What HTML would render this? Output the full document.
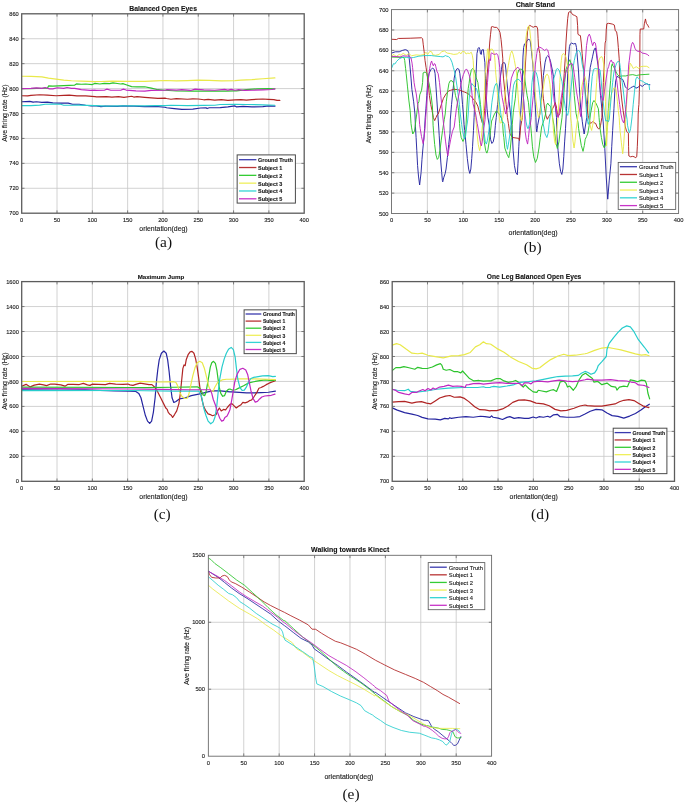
<!DOCTYPE html><html><head><meta charset="utf-8"><title>Firing rate figures</title><style>
html,body{margin:0;padding:0;background:#fff}svg{display:block}text{font-family:"Liberation Sans",Arial,sans-serif;fill:#1a1a1a;stroke:#1a1a1a;stroke-width:.12px}.tt{font-weight:bold;fill:#111}.cap{font-family:"Liberation Serif","Times New Roman",serif;font-size:15.4px;fill:#111;stroke:none}.gr{stroke:#c6c6c6;stroke-width:.8}.ax{fill:none}.tm{stroke:#555;stroke-width:.7}.cv{fill:none;stroke-linejoin:round;stroke-linecap:round}
</style></head><body>
<svg width="685" height="804" viewBox="0 0 685 804">
<rect width="685" height="804" fill="#fff"/>
<g id="chart-a">
<line class="gr" x1="57.01" y1="13.8" x2="57.01" y2="213.2"/>
<line class="gr" x1="92.33" y1="13.8" x2="92.33" y2="213.2"/>
<line class="gr" x1="127.64" y1="13.8" x2="127.64" y2="213.2"/>
<line class="gr" x1="162.95" y1="13.8" x2="162.95" y2="213.2"/>
<line class="gr" x1="198.26" y1="13.8" x2="198.26" y2="213.2"/>
<line class="gr" x1="233.57" y1="13.8" x2="233.57" y2="213.2"/>
<line class="gr" x1="268.89" y1="13.8" x2="268.89" y2="213.2"/>
<line class="gr" x1="21.7" y1="188.27" x2="304.2" y2="188.27"/>
<line class="gr" x1="21.7" y1="163.35" x2="304.2" y2="163.35"/>
<line class="gr" x1="21.7" y1="138.43" x2="304.2" y2="138.43"/>
<line class="gr" x1="21.7" y1="113.5" x2="304.2" y2="113.5"/>
<line class="gr" x1="21.7" y1="88.58" x2="304.2" y2="88.58"/>
<line class="gr" x1="21.7" y1="63.65" x2="304.2" y2="63.65"/>
<line class="gr" x1="21.7" y1="38.73" x2="304.2" y2="38.73"/>
<line class="tm" x1="57.01" y1="213.2" x2="57.01" y2="210.4"/>
<line class="tm" x1="57.01" y1="13.8" x2="57.01" y2="16.6"/>
<line class="tm" x1="92.33" y1="213.2" x2="92.33" y2="210.4"/>
<line class="tm" x1="92.33" y1="13.8" x2="92.33" y2="16.6"/>
<line class="tm" x1="127.64" y1="213.2" x2="127.64" y2="210.4"/>
<line class="tm" x1="127.64" y1="13.8" x2="127.64" y2="16.6"/>
<line class="tm" x1="162.95" y1="213.2" x2="162.95" y2="210.4"/>
<line class="tm" x1="162.95" y1="13.8" x2="162.95" y2="16.6"/>
<line class="tm" x1="198.26" y1="213.2" x2="198.26" y2="210.4"/>
<line class="tm" x1="198.26" y1="13.8" x2="198.26" y2="16.6"/>
<line class="tm" x1="233.57" y1="213.2" x2="233.57" y2="210.4"/>
<line class="tm" x1="233.57" y1="13.8" x2="233.57" y2="16.6"/>
<line class="tm" x1="268.89" y1="213.2" x2="268.89" y2="210.4"/>
<line class="tm" x1="268.89" y1="13.8" x2="268.89" y2="16.6"/>
<line class="tm" x1="21.7" y1="188.27" x2="24.5" y2="188.27"/>
<line class="tm" x1="304.2" y1="188.27" x2="301.4" y2="188.27"/>
<line class="tm" x1="21.7" y1="163.35" x2="24.5" y2="163.35"/>
<line class="tm" x1="304.2" y1="163.35" x2="301.4" y2="163.35"/>
<line class="tm" x1="21.7" y1="138.43" x2="24.5" y2="138.43"/>
<line class="tm" x1="304.2" y1="138.43" x2="301.4" y2="138.43"/>
<line class="tm" x1="21.7" y1="113.5" x2="24.5" y2="113.5"/>
<line class="tm" x1="304.2" y1="113.5" x2="301.4" y2="113.5"/>
<line class="tm" x1="21.7" y1="88.58" x2="24.5" y2="88.58"/>
<line class="tm" x1="304.2" y1="88.58" x2="301.4" y2="88.58"/>
<line class="tm" x1="21.7" y1="63.65" x2="24.5" y2="63.65"/>
<line class="tm" x1="304.2" y1="63.65" x2="301.4" y2="63.65"/>
<line class="tm" x1="21.7" y1="38.73" x2="24.5" y2="38.73"/>
<line class="tm" x1="304.2" y1="38.73" x2="301.4" y2="38.73"/>
<clipPath id="cl-a"><rect x="21.7" y="13.8" width="282.5" height="199.4"/></clipPath>
<g clip-path="url(#cl-a)">
<polyline class="cv" stroke="#2525a0" stroke-width="1.2" points="21.64,101.75 29.85,101.31 33.14,102.08 36.42,101.75 41.9,102.3 47.37,102.08 52.85,102.85 60.51,103.18 68.18,103.18 72.55,104.27 79.12,104.27 85.69,105.26 91.17,105.91 95,105.58 96.57,105.91 100.95,106.68 105.33,106.13 117.37,106.46 122.85,105.91 133.8,106.13 144.74,106.68 155.69,106.35 165,107.23 166.57,107.77 174.23,108.65 181.9,109.42 192.85,109.09 200.51,107.99 205.99,107.77 207.08,108.54 209.27,107.77 220.22,107.55 227.88,106.9 235,105.91 236.57,106.9 243.14,106.46 251.9,106.9 262.85,106.68 268.32,105.91 274.89,106.13"/>
<polyline class="cv" stroke="#b02424" stroke-width="1.2" points="21.64,95.73 27.66,95.95 30.95,95.4 39.71,94.74 47.37,95.18 56.13,95.73 63.8,95.4 69.27,95.18 76.93,95.95 85.69,95.95 95,96.61 96.57,96.82 106.42,96.61 111.9,97.04 118.47,96.61 123.94,97.37 131.61,96.28 133.8,97.04 137.08,96.61 144.74,97.37 151.31,97.92 157.88,98.47 165,98.14 166.57,98.47 170.95,99.23 176.42,98.69 187.37,99.23 192.85,98.8 198.32,99.01 203.8,99.78 208.18,99.34 214.74,100.11 221.31,99.56 227.88,100.33 235,99.78 240.95,99.56 246.42,100.11 251.9,99.56 262.85,99.01 268.32,99.34 273.8,99.56 277.08,100.44 279.82,100.44"/>
<polyline class="cv" stroke="#2cc42c" stroke-width="1.2" points="21.64,88.61 30.4,88.72 36.42,88.39 47.37,88.18 48.69,85.88 52.85,86.09 63.8,85.66 74.74,85.11 76.39,83.91 81.31,84.23 85.69,84.01 92.26,84.56 95,83.36 99.85,84.01 104.23,83.36 109.71,83.69 112.99,82.81 117.37,83.47 120.66,84.01 122.85,83.69 126.13,84.78 131.61,86.64 137.08,86.97 144.74,86.75 151.31,88.07 157.88,89.71 165,90.26 176.42,91.02 192.85,91.13 209.27,91.13 225.69,91.13 235,90.8 236.57,90.8 246.42,89.71 257.37,88.83 268.32,88.61 274.89,88.83"/>
<polyline class="cv" stroke="#e9e94a" stroke-width="1.2" points="21.64,76.24 30.95,76.35 41.9,76.9 48.47,78.21 56.13,79.09 63.8,80.07 71.46,80.73 81.31,81.17 95,81.72 100.95,81.5 111.9,81.17 127.23,81.28 144.74,81.28 155.69,80.95 165,80.51 176.42,80.95 187.37,80.62 198.32,80.07 209.27,80.4 221.31,80.95 235,80.62 240.95,80.18 251.9,79.64 262.85,78.76 274.89,77.88"/>
<polyline class="cv" stroke="#28cdcd" stroke-width="1.2" points="21.64,105.58 30.95,105.58 39.71,105.04 45.18,104.27 52.85,104.16 60.51,104.27 63.8,105.26 71.46,105.26 79.12,105.04 95,105.58 106.42,106.13 122.85,105.91 144.74,105.91 155.69,105.58 165,105.58 170.95,105.26 187.37,105.58 203.8,105.36 214.74,105.26 220.22,104.49 235,104.27 246.42,104.49 262.85,104.82 274.89,105.26"/>
<polyline class="cv" stroke="#c028c0" stroke-width="1.2" points="21.64,88.61 30.95,88.39 36.42,87.85 41.9,88.39 45.18,87.52 49.56,88.83 52.85,88.94 57.23,87.74 63.8,88.39 67.08,87.52 71.46,88.39 74.74,88.39 81.31,89.71 90.07,90.47 95,90.04 95.47,90.47 104.23,90.26 106.97,89.16 110.8,90.26 120.66,90.26 123.39,89.16 126.13,90.04 135.99,90.8 144.74,91.13 151.31,90.47 165,90.26 166.57,89.71 176.42,90.04 181.9,89.71 190.66,90.47 195.04,89.16 203.8,89.93 214.74,90.26 224.6,89.38 227.88,90.04 231.17,89.38 235,90.26 238.76,89.71 244.23,90.47 251.9,90.26 262.85,89.93 271.61,89.49 274.89,88.83"/>
</g>
<rect class="ax" x="21.7" y="13.8" width="282.5" height="199.4" stroke="#5c5c5c" stroke-width="1.3"/>
<text font-size="5.7" text-anchor="middle" x="21.7" y="222">0</text>
<text font-size="5.7" text-anchor="middle" x="57.01" y="222">50</text>
<text font-size="5.7" text-anchor="middle" x="92.33" y="222">100</text>
<text font-size="5.7" text-anchor="middle" x="127.64" y="222">150</text>
<text font-size="5.7" text-anchor="middle" x="162.95" y="222">200</text>
<text font-size="5.7" text-anchor="middle" x="198.26" y="222">250</text>
<text font-size="5.7" text-anchor="middle" x="233.57" y="222">300</text>
<text font-size="5.7" text-anchor="middle" x="268.89" y="222">350</text>
<text font-size="5.7" text-anchor="middle" x="304.2" y="222">400</text>
<text font-size="5.7" text-anchor="end" x="18.8" y="215.25">700</text>
<text font-size="5.7" text-anchor="end" x="18.8" y="190.33">720</text>
<text font-size="5.7" text-anchor="end" x="18.8" y="165.4">740</text>
<text font-size="5.7" text-anchor="end" x="18.8" y="140.48">760</text>
<text font-size="5.7" text-anchor="end" x="18.8" y="115.55">780</text>
<text font-size="5.7" text-anchor="end" x="18.8" y="90.63">800</text>
<text font-size="5.7" text-anchor="end" x="18.8" y="65.7">820</text>
<text font-size="5.7" text-anchor="end" x="18.8" y="40.78">840</text>
<text font-size="5.7" text-anchor="end" x="18.8" y="15.85">860</text>
<text class="tt" font-size="6.85" text-anchor="middle" x="163.15" y="10.6">Balanced Open Eyes</text>
<text font-size="6.9" text-anchor="middle" x="163.5" y="230.6">orientation(deg)</text>
<text font-size="6.9" text-anchor="middle" transform="translate(7.3,113.1) rotate(-90)">Ave firing rate (Hz)</text>
<rect x="237.15" y="154.9" width="58.25" height="48.2" fill="#fff" stroke="#4a4a4a" stroke-width="1"/>
<line x1="239" y1="159.7" x2="256.4" y2="159.7" stroke="#3a3aae" stroke-width="1.3"/>
<text font-size="5.45" font-weight="bold" fill="#111" x="258.1" y="162.11">Ground Truth</text>
<line x1="239" y1="167.52" x2="256.4" y2="167.52" stroke="#b83434" stroke-width="1.3"/>
<text font-size="5.45" font-weight="bold" fill="#111" x="258.1" y="169.93">Subject 1</text>
<line x1="239" y1="175.34" x2="256.4" y2="175.34" stroke="#34cc34" stroke-width="1.3"/>
<text font-size="5.45" font-weight="bold" fill="#111" x="258.1" y="177.75">Subject 2</text>
<line x1="239" y1="183.16" x2="256.4" y2="183.16" stroke="#efef5c" stroke-width="1.3"/>
<text font-size="5.45" font-weight="bold" fill="#111" x="258.1" y="185.57">Subject 3</text>
<line x1="239" y1="190.98" x2="256.4" y2="190.98" stroke="#34d4d4" stroke-width="1.3"/>
<text font-size="5.45" font-weight="bold" fill="#111" x="258.1" y="193.39">Subject 4</text>
<line x1="239" y1="198.8" x2="256.4" y2="198.8" stroke="#c834c8" stroke-width="1.3"/>
<text font-size="5.45" font-weight="bold" fill="#111" x="258.1" y="201.21">Subject 5</text>
<text class="cap" text-anchor="middle" x="163.5" y="247.3">(a)</text>
</g>
<g id="chart-b">
<line class="gr" x1="427.39" y1="9.6" x2="427.39" y2="213.5"/>
<line class="gr" x1="463.27" y1="9.6" x2="463.27" y2="213.5"/>
<line class="gr" x1="499.16" y1="9.6" x2="499.16" y2="213.5"/>
<line class="gr" x1="535.05" y1="9.6" x2="535.05" y2="213.5"/>
<line class="gr" x1="570.94" y1="9.6" x2="570.94" y2="213.5"/>
<line class="gr" x1="606.83" y1="9.6" x2="606.83" y2="213.5"/>
<line class="gr" x1="642.71" y1="9.6" x2="642.71" y2="213.5"/>
<line class="gr" x1="391.5" y1="193.11" x2="678.6" y2="193.11"/>
<line class="gr" x1="391.5" y1="172.72" x2="678.6" y2="172.72"/>
<line class="gr" x1="391.5" y1="152.33" x2="678.6" y2="152.33"/>
<line class="gr" x1="391.5" y1="131.94" x2="678.6" y2="131.94"/>
<line class="gr" x1="391.5" y1="111.55" x2="678.6" y2="111.55"/>
<line class="gr" x1="391.5" y1="91.16" x2="678.6" y2="91.16"/>
<line class="gr" x1="391.5" y1="70.77" x2="678.6" y2="70.77"/>
<line class="gr" x1="391.5" y1="50.38" x2="678.6" y2="50.38"/>
<line class="gr" x1="391.5" y1="29.99" x2="678.6" y2="29.99"/>
<line class="tm" x1="427.39" y1="213.5" x2="427.39" y2="210.7"/>
<line class="tm" x1="427.39" y1="9.6" x2="427.39" y2="12.4"/>
<line class="tm" x1="463.27" y1="213.5" x2="463.27" y2="210.7"/>
<line class="tm" x1="463.27" y1="9.6" x2="463.27" y2="12.4"/>
<line class="tm" x1="499.16" y1="213.5" x2="499.16" y2="210.7"/>
<line class="tm" x1="499.16" y1="9.6" x2="499.16" y2="12.4"/>
<line class="tm" x1="535.05" y1="213.5" x2="535.05" y2="210.7"/>
<line class="tm" x1="535.05" y1="9.6" x2="535.05" y2="12.4"/>
<line class="tm" x1="570.94" y1="213.5" x2="570.94" y2="210.7"/>
<line class="tm" x1="570.94" y1="9.6" x2="570.94" y2="12.4"/>
<line class="tm" x1="606.83" y1="213.5" x2="606.83" y2="210.7"/>
<line class="tm" x1="606.83" y1="9.6" x2="606.83" y2="12.4"/>
<line class="tm" x1="642.71" y1="213.5" x2="642.71" y2="210.7"/>
<line class="tm" x1="642.71" y1="9.6" x2="642.71" y2="12.4"/>
<line class="tm" x1="391.5" y1="193.11" x2="394.3" y2="193.11"/>
<line class="tm" x1="678.6" y1="193.11" x2="675.8" y2="193.11"/>
<line class="tm" x1="391.5" y1="172.72" x2="394.3" y2="172.72"/>
<line class="tm" x1="678.6" y1="172.72" x2="675.8" y2="172.72"/>
<line class="tm" x1="391.5" y1="152.33" x2="394.3" y2="152.33"/>
<line class="tm" x1="678.6" y1="152.33" x2="675.8" y2="152.33"/>
<line class="tm" x1="391.5" y1="131.94" x2="394.3" y2="131.94"/>
<line class="tm" x1="678.6" y1="131.94" x2="675.8" y2="131.94"/>
<line class="tm" x1="391.5" y1="111.55" x2="394.3" y2="111.55"/>
<line class="tm" x1="678.6" y1="111.55" x2="675.8" y2="111.55"/>
<line class="tm" x1="391.5" y1="91.16" x2="394.3" y2="91.16"/>
<line class="tm" x1="678.6" y1="91.16" x2="675.8" y2="91.16"/>
<line class="tm" x1="391.5" y1="70.77" x2="394.3" y2="70.77"/>
<line class="tm" x1="678.6" y1="70.77" x2="675.8" y2="70.77"/>
<line class="tm" x1="391.5" y1="50.38" x2="394.3" y2="50.38"/>
<line class="tm" x1="678.6" y1="50.38" x2="675.8" y2="50.38"/>
<line class="tm" x1="391.5" y1="29.99" x2="394.3" y2="29.99"/>
<line class="tm" x1="678.6" y1="29.99" x2="675.8" y2="29.99"/>
<clipPath id="cl-b"><rect x="391.5" y="9.6" width="287.1" height="203.9"/></clipPath>
<g clip-path="url(#cl-b)">
<polyline class="cv" stroke="#2525a0" stroke-width="0.95" points="391.49,53.11 395.26,51.8 399.2,51.8 402.26,50.48 405.33,49.61 407.52,50.48 408.66,52.67 409.27,58.8 410.15,68 411.02,78.14 411.9,89.53 413.65,101.79 414.96,114.05 415.4,126.13 416.1,137.52 416.8,150.66 417.59,165.55 418.47,176.06 419.64,185 421.09,172.55 421.97,159.42 422.85,148.91 423.72,140.15 424.6,128.76 425.21,117.55 425.91,108.8 426.79,95.66 427.66,82.52 428.98,73.76 430.73,69.82 432.48,68.07 434.23,69.38 435.11,73.76 435.99,86.9 436.86,100.04 437.74,113.18 438.7,127.01 439.23,135.77 439.93,148.03 440.8,162.04 441.68,172.55 442.38,180.44 442.73,181.84 443.69,177.81 445.18,173.43 446.06,169.05 447.37,157.66 448.69,144.53 450,133.14 450.26,120 450.78,114.05 451.57,104.42 452.88,91.28 454.2,78.14 455.51,71.13 457.26,68.5 459.01,69.38 459.89,73.76 460.77,82.52 461.64,93.03 462.52,104.42 463.39,114.05 464.09,124.38 464.71,130.51 466.02,144.53 467.34,158.54 468.65,169.05 469.79,173.43 470.84,169.05 471.72,158.54 472.59,146.28 473.47,130.51 474.08,117.55 474.61,104.42 475.22,91.28 476.09,73.76 476.97,53.55 478.11,48.29 478.99,47.42 479.86,49.61 480.47,53.99 481.35,54.42 481.79,50.04 483.36,49.61 483.98,55.3 484.85,62.31 485.47,78.14 486.17,95.66 487.04,108.8 487.92,117.55 489.23,125.26 489.85,132.26 490.55,139.27 491.86,143.47 493.18,141.9 494.49,135.77 495.36,125.26 496.24,117.55 497.55,104.42 498.87,91.28 500.18,78.14 501.5,69.38 502.19,64.06 503.94,62.31 505.26,64.06 505.96,70.26 506.57,78.14 507.88,91.28 509.2,101.79 510.51,114.05 511.74,125.26 512.26,133.14 513.14,150.66 514.45,165.55 515.77,172.55 517.34,174.74 517.96,163.8 518.83,146.28 519.71,130.51 520.58,114.05 521.46,100.04 522.34,82.52 522.95,57.05 523.65,47.42 524.53,43.91 525.84,43.04 527.15,40.41 528.91,39.09 530.22,40.85 531.09,47.42 531.97,56.18 532.85,64.06 533.72,78.14 534.42,91.28 535.21,104.42 535.91,117.55 536.35,128.76 536.79,131.82 537.66,125.26 539.85,114.05 541.17,100.04 542.48,86.9 543.36,75.51 545.11,62.31 546.42,57.05 547.74,55.74 549.05,57.05 550.36,60.55 552.55,71.13 553.43,76.39 554.31,91.28 555.18,104.42 556.5,117.55 556.75,133.14 558.07,150.66 559.38,163.8 560.69,171.68 561.83,174.48 562.88,169.05 563.76,156.79 564.64,141.9 565.51,128.76 566.56,108.8 567.09,91.28 567.7,73.76 568.58,57.05 569.45,46.54 570.33,43.91 571.64,43.04 573.39,43.91 575.58,43.47 576.46,47.42 577.34,57.05 578.47,70.26 579.35,86.9 580.58,107.04 582.33,121.75 583.03,127.01 584.17,134.01 585.22,127.01 586.71,117.55 587.58,100.04 588.72,82.52 590.21,67.56 591.35,62.31 592.66,56.18 593.98,50.04 595.29,47.85 596.17,51.8 597.04,58.8 598.62,69.38 599.41,82.52 600.55,95.66 601.86,108.8 603.18,121.93 604.82,148.8 606.28,177.99 607.74,199.16 609.2,180.91 610.88,163.8 611.75,146.28 612.63,130.51 613.94,108.8 614.82,91.28 615.69,80.77 617.01,76.39 618.76,77.26 620.51,78.58 622.7,79.45 624.01,82.52 625.33,86.9 627.08,88.65 628.83,89.53 630.58,87.77 632.34,86.9 634.09,86.02 635.84,88.21 638.03,87.34 640.22,85.15 642.41,86.46 644.6,84.27 646.79,83.83 648.98,84.71 649.85,84.71"/>
<polyline class="cv" stroke="#b02424" stroke-width="0.95" points="391.49,39.27 396.57,39.53 398.32,38.48 410.15,38.22 421.53,37.78 422.58,38.66 423.28,44.79 424.16,51.8 425.04,60.55 426.09,67.63 426.79,72.01 428.1,82.52 429.42,95.66 430.73,104.42 432.04,110.55 433.36,117.55 434.67,120.62 435.99,117.55 437.12,114.93 438.18,114.05 439.93,108.8 441.68,103.54 443.43,98.28 446.06,93.91 448.25,91.28 450,90.4 450.26,90.4 453.76,89.35 457.26,89.53 460.77,90.58 464.27,91.98 467.77,93.47 470.4,95.66 473.03,98.72 475.66,101.79 477.85,106.17 479.16,111.42 480.47,116.68 481.79,121.06 483.19,125.44 484.59,110.55 485.82,93.91 486.87,78.14 488.09,64.06 488.8,57.05 489.67,43.04 490.55,34.28 491.42,26.83 492.74,26.57 494.05,27.27 496.68,27.45 498.43,29.02 500.01,32.53 501.06,39.53 501.93,48.29 502.81,58.8 502.86,68.5 503.5,78.14 504.82,91.28 506.13,104.42 507.45,117.55 508.41,123.5 509.11,128.76 510.07,134.01 511.39,136.2 512.7,137.52 518.83,138.39 519.45,140.58 519.97,135.77 520.58,127.01 522.34,117.55 523.04,107.04 523.82,91.28 524.7,78.14 525.84,57.05 526.72,43.04 527.59,30.77 528.47,26.83 529.78,25.34 531.53,26.39 533.28,27.27 535.04,26.39 536.79,26.57 537.66,29.02 538.1,38.66 538.54,47.42 539.85,53.55 540.29,60.55 541.17,70.26 541.78,79.89 542.48,89.53 543.36,98.28 544.67,108.8 545.99,115.8 547.3,119.31 548.61,116.68 550.36,114.05 552.55,108.8 553.87,106.17 555.18,102.66 556.5,107.04 556.55,108.8 558.07,116.68 559.82,113.61 561.13,107.04 562.45,95.66 563.32,85.15 564.2,73.76 565.34,57.05 565.95,43.04 566.82,29.9 567.7,18.51 568.58,12.38 569.89,11.68 571.2,12.38 572.52,14.57 574.71,15.45 576.9,16.76 577.6,25.52 577.95,34.28 579.09,35.15 580.4,35.59 581.28,43.04 582.15,53.55 583.03,64.06 583.91,72.01 584.61,82.52 585.39,93.03 586.53,104.42 588.28,115.8 589.6,121.06 590.47,123.5 591.79,122.63 593.1,121.31 594.42,123.07 595.73,123.5 597.04,127.01 598.36,128.76 599.67,128.76 600.55,125.26 601.86,117.55 602.74,100.04 603.35,82.52 604.23,64.06 604.58,55.3 605.1,43.04 605.8,40.41 606.24,29.9 606.85,23.77 608.43,23.33 611.06,23.77 612.63,24.2 614.38,25.08 615.26,30.77 616.57,31.65 617.45,36.91 618.32,47.42 619.2,58.8 619.81,76.39 620.51,86.9 621.82,100.04 623.14,110.55 624.45,119.31 625.33,127.01 626.64,131.39 628.39,133.14 628.57,146.28 628.83,155.91 630.58,156.79 632.77,156.35 634.09,156.79 635.84,157.66 636.72,156.79 637.33,146.28 637.85,133.14 638.2,114.05 638.55,107.92 638.91,104.42 639.34,91.28 639.78,78.14 639.87,51.8 639.96,34.28 640.22,29.02 643.72,29.02 644.34,23.77 645.47,18.95 646.35,23.33 647.66,25.08 648.8,27.27"/>
<polyline class="cv" stroke="#2cc42c" stroke-width="0.95" points="391.49,57.05 404.01,57.49 404.72,60.55 405.59,68.5 406.2,73.76 407.52,86.9 408.83,100.04 410.15,110.55 411.02,123.5 411.64,127.88 412.77,134.01 414.53,130.95 416.01,119.31 416.72,114.05 418.03,103.54 418.91,101.79 419.78,94.78 421.53,90.4 422.58,82.52 423.11,72.88 425.04,72.01 426.79,73.32 427.84,78.14 429.42,85.15 431.17,95.66 432.48,107.04 433.09,125.26 433.62,132.26 434.67,144.53 435.99,155.04 437.3,159.42 438.61,157.66 439.93,150.66 441.24,140.15 442.55,130.51 444.31,119.31 445.18,114.05 446.31,101.79 447.63,91.28 448.94,83.39 450.26,80.77 452.01,80.77 453.32,82.52 454.2,87.77 455.51,95.66 457.26,101.79 458.58,110.55 459.54,123.5 460.07,130.51 461.2,137.52 462.96,141.46 464.71,137.52 465.85,129.64 466.55,114.05 467.34,100.04 468.21,88.65 469.09,83.39 469.96,76.39 471.28,70.26 472.59,68.5 474.34,70.26 476.09,77.26 477.85,82.52 479.16,93.03 480.47,104.42 481.61,115.8 482.49,123.5 483.19,130.51 484.42,142.77 485.73,150.66 486.87,153.11 487.92,149.78 489.23,141.02 490.55,130.51 491.6,121.06 492.74,118.43 494.05,114.93 496.24,110.99 498.43,112.74 500.18,115.8 501.5,118.43 502.64,123.5 503.25,133.14 503.85,137.52 504.82,148.03 507.01,154.16 508.76,157.66 510.07,150.66 511.39,137.52 512.26,124.38 513.31,112.3 514.01,107.04 515.33,98.28 516.64,82.52 517.52,73.76 518.83,69.82 521.02,68.94 523.21,70.69 524.53,76.39 525.84,86.9 527.15,95.66 528.47,102.66 529.34,112.3 530.66,125.26 531.36,133.14 532.41,146.28 533.72,156.79 535.47,162.48 537.23,158.54 538.98,148.03 540.29,137.52 541.61,127.01 543.36,121.93 544.23,119.31 545.55,114.05 546.42,105.29 547.74,103.1 549.05,105.29 550.36,106.17 551.68,110.55 552.55,117.55 553.96,125.26 554.74,133.14 556.06,143.65 557.37,148.47 558.94,141.9 560.26,130.51 562.01,117.55 563.32,100.04 564.64,82.52 565.95,69.38 567.7,64.93 568.58,62.31 569.89,59.68 571.2,64.06 572.52,71.13 573.22,80.77 574.27,95.66 576.02,113.18 578.04,122.63 578.65,128.76 579.96,137.52 581.28,145.4 583.03,151.36 584.34,145.4 585.22,139.27 586.53,136.64 587.85,133.14 589.16,125.26 590.47,114.05 592.66,102.66 593.98,100.47 596.17,103.54 598.36,108.8 599.06,117.55 599.5,122.63 600.11,128.76 601.42,137.52 602.74,144.53 604.23,147.85 605.36,145.4 606.68,133.14 607.82,119.31 608.43,108.8 609.48,93.91 610.62,80.77 611.5,65.81 612.37,63.62 612.63,65.81 613.5,66.31 615.26,70.26 617.45,74.64 619.64,76.39 622.26,75.95 625.77,75.95 628.83,75.07 632.77,74.64 636.28,75.51 639.78,74.81 645.04,74.46 648.98,74.2"/>
<polyline class="cv" stroke="#e9e94a" stroke-width="0.95" points="391.49,56 393.94,54.42 396.13,56.61 399.2,54.42 400.95,55.3 403.14,53.37 406.2,55.3 408.83,53.55 411.46,55.74 416.28,54.86 420.22,55.3 424.16,54.42 425.91,52.23 427.66,54.42 429.85,51.36 431.61,51.8 432.92,54.86 435.55,55.3 439.05,54.42 441.68,51.8 444.31,50.92 447.19,53.11 450.26,53.55 453.76,54.42 457.26,53.99 459.45,52.23 460.77,53.99 462.52,51.36 464.71,51.8 466.02,53.99 467.77,53.11 469.53,53.55 471.28,52.23 472.33,55.3 473.2,60.55 473.73,70.26 473.99,78.14 474.52,91.28 475.04,104.42 475.66,117.55 476.36,124.38 476.97,133.14 478.28,144.53 479.6,150.66 480.47,147.15 481.35,137.52 482.23,127.01 483.01,121.06 483.54,108.8 484.42,91.28 485.12,73.76 486.26,65.81 486.87,57.05 487.48,49.17 488.09,48.73 488.62,57.05 489.23,60.55 489.85,51.8 490.55,49.17 492.3,49.17 493.61,51.36 494.49,55.3 495.1,62.31 495.45,69.38 495.98,75.51 496.68,82.52 497.55,95.66 498.43,107.04 499.31,117.55 500.18,123.07 501.5,122.63 502.8,117.55 503.5,110.55 505.26,91.28 507.01,73.76 508.32,65.81 509.2,60.55 510.51,53.55 511.82,50.92 513.14,54.42 514.45,60.55 515.5,66.69 516.29,70.26 516.82,76.39 517.52,86.9 518.39,100.04 519.27,110.55 520.58,119.31 521.46,121.06 522.34,114.05 523.21,100.04 524.09,82.52 524.88,60.55 525.23,51.8 525.84,38.66 526.72,32.53 527.85,26.83 528.91,25.96 529.78,29.9 530.66,38.66 531.53,47.42 532.41,57.05 533.64,70.26 534.16,78.14 535.04,91.28 535.91,100.04 537.23,110.55 538.54,117.55 539.85,114.05 541.17,104.42 542.92,91.28 544.67,79.01 545.99,75.07 547.3,74.2 548.61,76.39 549.93,84.27 550.8,93.91 551.68,104.42 552.55,114.05 553.26,127.88 553.87,134.89 554.74,141.9 555.62,144.53 555.88,141.02 556.75,130.51 558.07,117.55 558.94,100.04 559.82,82.52 560.96,64.06 561.31,60.55 562.01,55.3 563.32,53.55 564.64,54.42 565.95,57.05 567.26,64.06 568.58,73.76 569.01,84.27 569.72,100.04 570.59,117.55 571.47,123.5 572.08,130.51 572.96,141.02 574.09,148.03 574.97,141.9 576.02,130.51 577.34,121.06 578.21,114.05 579.96,100.04 581.72,86.9 583.47,79.01 584.78,76.39 586.09,80.77 587.41,91.28 588.72,104.42 589.34,117.55 590.04,123.5 590.47,127.01 591.61,130.51 592.66,125.26 593.98,119.31 594.42,114.05 595.47,100.04 596.61,82.52 597.48,69.38 598.27,64.93 598.8,60.55 600.11,57.49 601.86,56.61 602.74,58.8 603.61,64.06 604.49,73.76 604.93,86.9 605.45,101.79 605.8,117.55 606.24,128.76 606.5,145.84 607.38,128.76 608.26,117.55 609.13,106.17 610.44,99.16 611.75,93.03 613.94,87.77 615.69,88.21 616.57,93.91 617.45,101.79 618.32,110.55 619.2,117.55 619.64,125.26 620.16,131.39 621.39,142.77 622.7,153.72 623.58,146.28 624.45,133.14 625.77,117.55 626.38,107.04 627.52,91.28 628.83,73.76 630.15,63.18 631.46,64.93 633.21,68.5 634.53,67.63 636.28,66.75 638.91,68.5 640.22,66.75 643.28,66.31 646.79,66.31 648.98,67.63"/>
<polyline class="cv" stroke="#28cdcd" stroke-width="0.95" points="391.49,68.44 393.5,63.62 394.82,64.06 396.57,61.43 399.2,58.8 403.14,57.05 406.64,57.49 410.15,57.93 413.65,57.49 418.91,56.18 425.04,55.56 431.17,55.56 434.67,56 440.8,56.61 442.99,56.88 445.62,55.56 446.31,56 448.5,56.61 450.26,58.36 452.01,62.31 453.41,67.63 454.2,70.26 455.51,76.39 456.82,85.15 458.14,94.78 459.45,104.42 460.33,114.05 461.64,124.38 462.52,130.51 464.27,138.83 465.58,135.77 466.64,127.01 467.6,121.06 468.21,114.05 469.09,100.04 470.4,86.9 471.72,83.39 473.03,85.15 474.78,86.9 476.53,88.65 477.85,93.03 479.16,100.04 480.04,107.04 480.91,114.05 482.84,122.63 483.98,131.39 485.29,141.9 486.34,144.09 487.48,140.15 488.8,131.39 489.67,123.5 490.72,114.05 491.86,102.66 493.18,93.91 494.49,86.9 495.8,83.83 496.68,83.39 497.55,86.02 498.43,93.03 499.31,101.79 500.62,112.3 501.76,120.18 504.64,124.38 505.26,133.14 506.57,144.53 507.45,149.34 508.76,141.9 510.07,133.14 510.95,124.38 511.39,114.05 511.82,104.42 512.44,94.78 513.58,85.15 515.33,80.77 517.96,79.01 519.71,80.33 521.46,82.52 522.77,91.28 523.65,100.04 524.53,110.55 526.01,121.75 527.15,127.01 528.03,128.76 529.34,124.38 530.31,117.55 530.83,100.04 531.97,82.52 533.28,72.88 534.6,71.13 536.35,72.88 537.66,78.14 538.98,86.9 539.85,95.66 540.73,104.42 542.04,114.05 543.09,123.5 543.8,127.01 545.11,134.01 546.86,137.52 548.18,133.14 549.05,124.38 550.36,114.05 551.5,100.04 552.55,86.9 553.87,78.14 555,74.64 556.31,69.38 557.63,68.5 559.38,70.69 560.69,76.39 562.01,81.64 563.32,91.28 564.2,100.04 565.51,108.8 566.82,114.05 567.7,115.36 568.58,110.55 569.89,100.04 571.2,86.9 572.52,73.76 573.39,65.81 574.27,60.55 575.58,54.42 576.9,51.36 578.47,50.48 579.96,51.8 581.28,57.05 582.15,64.06 583.29,69.38 583.91,78.14 585.22,95.66 586.53,113.18 587.67,121.75 588.28,124.38 588.9,121.75 589.51,117.55 590.04,108.8 590.91,91.28 592.23,76.39 593.54,69.38 595.29,68.5 597.04,68.94 598.8,68.5 600.11,70.26 600.99,78.14 601.86,89.53 603.18,101.79 604.49,114.05 605.8,121.06 607.55,120.44 608.43,121.75 609.31,119.31 610,110.55 611.31,95.66 612.63,82.52 613.94,72.01 615.69,65.81 616.57,63.18 618.32,60.99 619.64,62.74 620.25,67.63 620.95,73.76 622.26,82.52 623.58,93.03 624.89,104.42 626.2,114.05 627.08,119.31 627.52,125.26 628.83,131.39 629.45,132.7 630.58,128.76 631.55,121.06 632.07,116.68 633.21,104.42 634.53,91.28 635.84,79.01 637.15,76.82 638.47,78.58 640.22,80.33 642.41,81.2 645.04,82.96 647.23,83.83 648.98,84.71 649.59,89.53"/>
<polyline class="cv" stroke="#c028c0" stroke-width="0.95" points="391.49,56.44 396.13,56.44 400.07,57.05 403.14,55.74 406.2,56.18 409.27,56 411.02,57.93 412.07,63.18 412.6,67.63 413.21,73.76 414.09,82.52 414.96,87.77 416.28,93.91 417.59,104.42 418.91,114.05 419.61,124.38 420.22,128.76 421.53,136.64 423.11,143.65 424.16,137.52 424.86,129.64 425.47,121.06 426.35,108.8 427.23,95.66 428.1,82.52 428.98,73.76 429.68,68.5 430.29,65.37 430.73,63.18 431.61,60.99 432.48,64.06 433.36,65.81 434.23,63.62 435.11,64.06 435.72,66.31 436.86,71.13 438.18,73.76 439.49,82.52 440.8,95.66 441.68,104.42 442.55,114.05 443.61,124.38 444.31,130.51 445.62,141.9 446.93,151.53 447.81,155.91 448.94,148.91 450.69,139.27 452.45,131.39 454.2,127.01 455.34,117.55 456.39,108.8 458.14,98.28 459.89,89.53 461.64,80.77 463.39,74.64 465.15,70.26 466.46,68.94 467.77,71.13 469.09,74.64 470.4,79.89 471.28,86.9 472.15,95.66 473.03,103.54 474.34,108.8 475.66,114.05 477.23,123.5 477.85,127.01 479.16,134.89 480.47,142.77 481.35,145.84 482.23,141.9 483.54,130.51 485.12,119.31 485.73,108.8 486.61,95.66 487.48,82.52 488.36,72.01 489.06,64.93 489.41,61.43 490.11,58.8 490.55,60.55 490.99,53.55 491.86,52.85 493.18,53.99 494.93,54.42 496.68,53.55 497.99,55.74 498.87,60.55 499.74,67.63 500.62,82.52 501.5,93.03 502.19,97.41 503.5,104.42 505.69,114.05 507.88,107.04 509.64,91.28 511.39,78.14 514.01,71.13 516.64,68.07 517.96,67.19 519.71,69.38 521.02,74.64 522.34,86.9 523.65,100.04 524.53,110.55 525.14,131.39 526.28,139.27 527.59,144.09 528.47,137.52 529.34,128.76 530.22,125.26 531.27,117.55 531.97,108.8 533.28,95.66 534.16,82.52 535.04,69.38 535.39,64.06 535.91,60.55 536.79,53.55 537.66,48.29 538.98,46.98 541.17,47.85 542.92,49.17 544.67,50.48 546.42,49.17 547.74,50.04 548.61,53.55 549.49,58.8 550.54,64.06 551.33,70.26 551.85,75.51 552.55,84.27 553.43,93.91 554.31,101.79 555.7,107.92 556.75,113.18 558.07,117.55 559.2,112.3 560.26,104.42 562.01,93.03 563.76,82.52 565.95,72.01 568.31,66.69 569.89,64.06 572.08,63.62 573.22,66.69 573.74,70.26 574.71,77.26 576.46,91.28 578.21,101.79 579.96,112.3 580.84,116.68 581.72,107.04 582.59,95.66 583.47,82.52 584.34,72.01 585.04,64.06 585.66,57.05 586.53,45.66 587.85,36.91 589.34,34.1 590.47,36.91 591.61,42.16 592.66,45.66 593.98,42.16 595.29,43.04 596.17,47.42 597.04,55.3 597.92,62.31 598.62,69.38 599.23,75.51 600.11,86.9 600.99,94.78 602.3,100.04 603.18,100.47 604.49,91.28 606.24,78.14 607.55,69.38 608.61,66.69 609.74,62.31 611.06,60.12 611.31,60.12 612.19,62.31 613.94,62.74 614.64,67.63 615.69,73.76 617.01,82.52 618.32,93.91 619.64,104.42 620.95,114.05 622.26,120.18 623.58,122.81 624.89,117.55 626.2,104.42 627.08,91.28 627.96,78.14 628.66,64.93 629.27,60.55 630.32,51.8 631.46,44.79 632.6,42.34 633.65,43.91 634.96,48.29 636.28,50.48 638.03,51.36 640.22,51.36 642.41,53.11 645.04,53.55 647.23,54.42 648.8,55.74"/>
</g>
<rect class="ax" x="391.5" y="9.6" width="287.1" height="203.9" stroke="#6a6a6a" stroke-width="0.9"/>
<text font-size="5.8" text-anchor="middle" x="391.5" y="221.7">0</text>
<text font-size="5.8" text-anchor="middle" x="427.39" y="221.7">50</text>
<text font-size="5.8" text-anchor="middle" x="463.27" y="221.7">100</text>
<text font-size="5.8" text-anchor="middle" x="499.16" y="221.7">150</text>
<text font-size="5.8" text-anchor="middle" x="535.05" y="221.7">200</text>
<text font-size="5.8" text-anchor="middle" x="570.94" y="221.7">250</text>
<text font-size="5.8" text-anchor="middle" x="606.83" y="221.7">300</text>
<text font-size="5.8" text-anchor="middle" x="642.71" y="221.7">350</text>
<text font-size="5.8" text-anchor="middle" x="678.6" y="221.7">400</text>
<text font-size="5.8" text-anchor="end" x="388.6" y="215.59">500</text>
<text font-size="5.8" text-anchor="end" x="388.6" y="195.2">520</text>
<text font-size="5.8" text-anchor="end" x="388.6" y="174.81">540</text>
<text font-size="5.8" text-anchor="end" x="388.6" y="154.42">560</text>
<text font-size="5.8" text-anchor="end" x="388.6" y="134.03">580</text>
<text font-size="5.8" text-anchor="end" x="388.6" y="113.64">600</text>
<text font-size="5.8" text-anchor="end" x="388.6" y="93.25">620</text>
<text font-size="5.8" text-anchor="end" x="388.6" y="72.86">640</text>
<text font-size="5.8" text-anchor="end" x="388.6" y="52.47">660</text>
<text font-size="5.8" text-anchor="end" x="388.6" y="32.08">680</text>
<text font-size="5.8" text-anchor="end" x="388.6" y="11.69">700</text>
<text class="tt" font-size="7.04" text-anchor="middle" x="535.4" y="6.75">Chair Stand</text>
<text font-size="7.03" text-anchor="middle" x="533.1" y="234.8">orientation(deg)</text>
<text font-size="7.03" text-anchor="middle" transform="translate(371.2,114.2) rotate(-90)">Ave firing rate (Hz)</text>
<rect x="618.2" y="162.4" width="57.5" height="47" fill="#fff" stroke="#5c5c5c" stroke-width="0.85"/>
<line x1="619.9" y1="166.7" x2="637" y2="166.7" stroke="#3a3aae" stroke-width="1.3"/>
<text font-size="5.85" font-weight="normal" fill="#111" x="639" y="169.26">Ground Truth</text>
<line x1="619.9" y1="174.48" x2="637" y2="174.48" stroke="#b83434" stroke-width="1.3"/>
<text font-size="5.85" font-weight="normal" fill="#111" x="639" y="177.04">Subject 1</text>
<line x1="619.9" y1="182.26" x2="637" y2="182.26" stroke="#34cc34" stroke-width="1.3"/>
<text font-size="5.85" font-weight="normal" fill="#111" x="639" y="184.82">Subject 2</text>
<line x1="619.9" y1="190.04" x2="637" y2="190.04" stroke="#efef5c" stroke-width="1.3"/>
<text font-size="5.85" font-weight="normal" fill="#111" x="639" y="192.6">Subject 3</text>
<line x1="619.9" y1="197.82" x2="637" y2="197.82" stroke="#34d4d4" stroke-width="1.3"/>
<text font-size="5.85" font-weight="normal" fill="#111" x="639" y="200.38">Subject 4</text>
<line x1="619.9" y1="205.6" x2="637" y2="205.6" stroke="#c834c8" stroke-width="1.3"/>
<text font-size="5.85" font-weight="normal" fill="#111" x="639" y="208.16">Subject 5</text>
<text class="cap" text-anchor="middle" x="532.7" y="251.5">(b)</text>
</g>
<g id="chart-c">
<line class="gr" x1="57.01" y1="281.6" x2="57.01" y2="481.3"/>
<line class="gr" x1="92.33" y1="281.6" x2="92.33" y2="481.3"/>
<line class="gr" x1="127.64" y1="281.6" x2="127.64" y2="481.3"/>
<line class="gr" x1="162.95" y1="281.6" x2="162.95" y2="481.3"/>
<line class="gr" x1="198.26" y1="281.6" x2="198.26" y2="481.3"/>
<line class="gr" x1="233.57" y1="281.6" x2="233.57" y2="481.3"/>
<line class="gr" x1="268.89" y1="281.6" x2="268.89" y2="481.3"/>
<line class="gr" x1="21.7" y1="456.34" x2="304.2" y2="456.34"/>
<line class="gr" x1="21.7" y1="431.38" x2="304.2" y2="431.38"/>
<line class="gr" x1="21.7" y1="406.41" x2="304.2" y2="406.41"/>
<line class="gr" x1="21.7" y1="381.45" x2="304.2" y2="381.45"/>
<line class="gr" x1="21.7" y1="356.49" x2="304.2" y2="356.49"/>
<line class="gr" x1="21.7" y1="331.53" x2="304.2" y2="331.53"/>
<line class="gr" x1="21.7" y1="306.56" x2="304.2" y2="306.56"/>
<line class="tm" x1="57.01" y1="481.3" x2="57.01" y2="478.5"/>
<line class="tm" x1="57.01" y1="281.6" x2="57.01" y2="284.4"/>
<line class="tm" x1="92.33" y1="481.3" x2="92.33" y2="478.5"/>
<line class="tm" x1="92.33" y1="281.6" x2="92.33" y2="284.4"/>
<line class="tm" x1="127.64" y1="481.3" x2="127.64" y2="478.5"/>
<line class="tm" x1="127.64" y1="281.6" x2="127.64" y2="284.4"/>
<line class="tm" x1="162.95" y1="481.3" x2="162.95" y2="478.5"/>
<line class="tm" x1="162.95" y1="281.6" x2="162.95" y2="284.4"/>
<line class="tm" x1="198.26" y1="481.3" x2="198.26" y2="478.5"/>
<line class="tm" x1="198.26" y1="281.6" x2="198.26" y2="284.4"/>
<line class="tm" x1="233.57" y1="481.3" x2="233.57" y2="478.5"/>
<line class="tm" x1="233.57" y1="281.6" x2="233.57" y2="284.4"/>
<line class="tm" x1="268.89" y1="481.3" x2="268.89" y2="478.5"/>
<line class="tm" x1="268.89" y1="281.6" x2="268.89" y2="284.4"/>
<line class="tm" x1="21.7" y1="456.34" x2="24.5" y2="456.34"/>
<line class="tm" x1="304.2" y1="456.34" x2="301.4" y2="456.34"/>
<line class="tm" x1="21.7" y1="431.38" x2="24.5" y2="431.38"/>
<line class="tm" x1="304.2" y1="431.38" x2="301.4" y2="431.38"/>
<line class="tm" x1="21.7" y1="406.41" x2="24.5" y2="406.41"/>
<line class="tm" x1="304.2" y1="406.41" x2="301.4" y2="406.41"/>
<line class="tm" x1="21.7" y1="381.45" x2="24.5" y2="381.45"/>
<line class="tm" x1="304.2" y1="381.45" x2="301.4" y2="381.45"/>
<line class="tm" x1="21.7" y1="356.49" x2="24.5" y2="356.49"/>
<line class="tm" x1="304.2" y1="356.49" x2="301.4" y2="356.49"/>
<line class="tm" x1="21.7" y1="331.53" x2="24.5" y2="331.53"/>
<line class="tm" x1="304.2" y1="331.53" x2="301.4" y2="331.53"/>
<line class="tm" x1="21.7" y1="306.56" x2="24.5" y2="306.56"/>
<line class="tm" x1="304.2" y1="306.56" x2="301.4" y2="306.56"/>
<clipPath id="cl-c"><rect x="21.7" y="281.6" width="282.5" height="199.7"/></clipPath>
<g clip-path="url(#cl-c)">
<polyline class="cv" stroke="#2525a0" stroke-width="1.2" points="21.7,389.9 60,390 85,389.8 115,391 130,391.2 135.84,391.5 138.76,393.39 140.95,397.77 143.14,406.53 145.33,415.29 147.52,421.13 149.71,423.32 151.61,421.13 153.36,412.37 155.11,397.77 156.28,383.18 157.74,370.04 159.2,359.82 161.39,353.25 163.87,351.06 166.2,353.25 167.66,359.82 169.12,371.5 170.58,386.09 172.04,397.77 173.8,402.45 175.99,401.42 179.64,398.8 185.47,397.77 191.31,395.58 198.61,394.12 202.99,393.1 208.83,391.64 214.67,390.91 220.51,390.91 230,391.93 231.9,391.93 239.2,392.37 246.5,392.96 253.8,392.96 261.09,392.66 268.39,392.23 275.4,391.2"/>
<polyline class="cv" stroke="#b02424" stroke-width="1.2" points="21.53,386.19 26.13,384.35 30.22,386.91 34.31,385.17 39.42,384.15 43.5,384.86 46.57,385.58 50.66,384.04 54.74,384.04 60.88,384.86 64.96,386.19 68.03,384.35 73.14,384.35 79.27,384.55 83.36,383.33 87.45,384.86 90,385.37 92.15,384.15 98.28,384.35 105.44,384.66 109.53,383.33 115.66,384.04 122.81,384.35 127.92,384.04 129.96,384.86 132.92,385.36 135.84,384.34 140.22,383.18 144.6,383.91 148.98,384.64 151.9,384.64 154.82,387.26 157.74,391.93 160.66,397.77 163.58,403.61 165.77,407.99 167.23,409.45 168.25,412.37 170.15,414.56 171.31,415.29 172.63,417.48 174.53,414.56 176.72,410.91 178.91,403.61 180.36,393.39 181.82,378.8 182.85,368.58 184.01,364.93 185.18,365.66 186.2,359.82 188.1,354.71 190.15,351.79 192.04,351.35 193.94,353.25 195.69,359.09 197.15,367.12 198.61,377.34 200.07,389.01 201.53,397.77 203.72,406.53 205.91,410.91 208.1,413.83 210.29,414.56 212.48,415.73 214.67,415 216.13,414.56 217.59,410.91 219.34,407.99 221.24,410.91 223.43,409.45 225.62,409.89 227.52,407.26 230,404.34 231.9,403.61 234.09,405.8 236.28,407.99 238.47,406.24 240.66,405.07 242.85,402.45 245.04,402.88 247.23,402.15 249.42,400.69 251.61,399.96 253.8,397.04 256.72,392.66 258.91,388.28 261.09,387.55 263.28,386.39 266.2,384.64 269.12,383.18 272.04,382.01 275.4,380.69"/>
<polyline class="cv" stroke="#2cc42c" stroke-width="1.2" points="21.7,387.1 130,387.5 144.6,387.55 173.8,387.26 197.15,386.82 199.34,387.85 201.53,391.2 202.99,394.85 204.74,395.58 205.91,392.66 207.37,384.64 208.83,375.88 210.29,367.12 211.75,362.74 213.5,361.28 215.4,363.47 216.86,370.04 218.03,378.8 219.34,387.55 220.8,393.39 222.7,396.31 224.6,395.58 226.35,391.2 228.54,389.31 230,389.01 232.63,390.18 235.55,389.74 239.2,387.85 243.58,385.8 247.96,383.18 253.8,381.72 259.64,380.55 265.47,379.96 271.31,380.55 275.4,380.26"/>
<polyline class="cv" stroke="#e9e94a" stroke-width="1.2" points="21.7,381.5 130,381.4 144.6,381.72 159.2,382.01 173.8,381.72 175.99,382.45 177.45,385.36 179.64,391.93 181.82,396.31 184.74,398.5 186.93,398.5 188.69,394.85 190.58,386.09 192.77,375.88 194.96,367.85 197.15,362.74 199.78,361.28 202.26,362.74 204.45,368.58 206.64,377.34 208.83,386.82 211.02,391.2 213.21,391.2 214.67,387.55 217.59,382.45 221.97,379.96 226.35,379.23 230,379.23 239.2,378.8 253.8,378.8 268.39,379.23 275.4,379.53"/>
<polyline class="cv" stroke="#28cdcd" stroke-width="1.2" points="21.7,390.7 130,390.5 144.6,390.77 173.8,391.2 198.61,391.2 200.07,392.66 201.82,397.77 203.72,407.99 205.91,415.29 208.1,421.13 210.73,423.76 213.21,421.86 215.11,416.75 216.86,405.07 218.32,390.47 219.78,378.8 221.97,367.12 224.16,359.09 226.35,353.25 228.54,349.31 230,348.14 231.17,347.41 233.36,349.6 235.11,356.9 236.28,367.12 237.74,378.8 239.93,387.55 242.12,390.47 244.31,390.18 246.5,386.82 248.69,381.72 250.88,378.5 253.8,377.34 258.18,376.61 262.55,375.88 268.39,375.58 272.77,376.61 275.4,376.31"/>
<polyline class="cv" stroke="#c028c0" stroke-width="1.2" points="21.7,388.4 130,389 159.2,389.31 188.39,389.74 210.29,389.74 211.75,393.39 213.21,399.23 215.4,405.07 217.59,412.37 219.78,418.21 221.68,421.13 223.43,420.4 224.89,417.48 227.08,416.02 228.54,413.1 230,409.45 231.9,399.23 233.36,390.47 234.82,381.72 237.01,374.42 239.93,369.31 242.85,368.28 245.77,370.04 247.66,374.42 249.12,381.72 250.88,390.47 253.07,398.5 255.26,402.15 257.45,401.42 259.64,398.94 261.82,397.04 264.74,396.02 268.39,395.58 271.31,395.29 274.96,394.12"/>
</g>
<rect class="ax" x="21.7" y="281.6" width="282.5" height="199.7" stroke="#5c5c5c" stroke-width="1.3"/>
<text font-size="5.7" text-anchor="middle" x="21.7" y="490.1">0</text>
<text font-size="5.7" text-anchor="middle" x="57.01" y="490.1">50</text>
<text font-size="5.7" text-anchor="middle" x="92.33" y="490.1">100</text>
<text font-size="5.7" text-anchor="middle" x="127.64" y="490.1">150</text>
<text font-size="5.7" text-anchor="middle" x="162.95" y="490.1">200</text>
<text font-size="5.7" text-anchor="middle" x="198.26" y="490.1">250</text>
<text font-size="5.7" text-anchor="middle" x="233.57" y="490.1">300</text>
<text font-size="5.7" text-anchor="middle" x="268.89" y="490.1">350</text>
<text font-size="5.7" text-anchor="middle" x="304.2" y="490.1">400</text>
<text font-size="5.7" text-anchor="end" x="18.8" y="483.35">0</text>
<text font-size="5.7" text-anchor="end" x="18.8" y="458.39">200</text>
<text font-size="5.7" text-anchor="end" x="18.8" y="433.43">400</text>
<text font-size="5.7" text-anchor="end" x="18.8" y="408.46">600</text>
<text font-size="5.7" text-anchor="end" x="18.8" y="383.5">800</text>
<text font-size="5.7" text-anchor="end" x="18.8" y="358.54">1000</text>
<text font-size="5.7" text-anchor="end" x="18.8" y="333.58">1200</text>
<text font-size="5.7" text-anchor="end" x="18.8" y="308.61">1400</text>
<text font-size="5.7" text-anchor="end" x="18.8" y="283.65">1600</text>
<text class="tt" font-size="6.17" text-anchor="middle" x="160.9" y="278.6">Maximum Jump</text>
<text font-size="6.9" text-anchor="middle" x="163.5" y="498.6">orientation(deg)</text>
<text font-size="6.9" text-anchor="middle" transform="translate(6.6,381.2) rotate(-90)">Ave firing rate (Hz)</text>
<rect x="244.1" y="309.85" width="52.2" height="43.8" fill="#fff" stroke="#4a4a4a" stroke-width="1"/>
<line x1="245.6" y1="314" x2="261.3" y2="314" stroke="#3a3aae" stroke-width="1.3"/>
<text font-size="5.02" font-weight="bold" fill="#111" x="262.9" y="316.26">Ground Truth</text>
<line x1="245.6" y1="321.1" x2="261.3" y2="321.1" stroke="#b83434" stroke-width="1.3"/>
<text font-size="5.02" font-weight="bold" fill="#111" x="262.9" y="323.36">Subject 1</text>
<line x1="245.6" y1="328.2" x2="261.3" y2="328.2" stroke="#34cc34" stroke-width="1.3"/>
<text font-size="5.02" font-weight="bold" fill="#111" x="262.9" y="330.46">Subject 2</text>
<line x1="245.6" y1="335.3" x2="261.3" y2="335.3" stroke="#efef5c" stroke-width="1.3"/>
<text font-size="5.02" font-weight="bold" fill="#111" x="262.9" y="337.56">Subject 3</text>
<line x1="245.6" y1="342.4" x2="261.3" y2="342.4" stroke="#34d4d4" stroke-width="1.3"/>
<text font-size="5.02" font-weight="bold" fill="#111" x="262.9" y="344.66">Subject 4</text>
<line x1="245.6" y1="349.5" x2="261.3" y2="349.5" stroke="#c834c8" stroke-width="1.3"/>
<text font-size="5.02" font-weight="bold" fill="#111" x="262.9" y="351.76">Subject 5</text>
<text class="cap" text-anchor="middle" x="162.2" y="519.1">(c)</text>
</g>
<g id="chart-d">
<line class="gr" x1="427.49" y1="281.6" x2="427.49" y2="481.3"/>
<line class="gr" x1="462.77" y1="281.6" x2="462.77" y2="481.3"/>
<line class="gr" x1="498.06" y1="281.6" x2="498.06" y2="481.3"/>
<line class="gr" x1="533.35" y1="281.6" x2="533.35" y2="481.3"/>
<line class="gr" x1="568.64" y1="281.6" x2="568.64" y2="481.3"/>
<line class="gr" x1="603.92" y1="281.6" x2="603.92" y2="481.3"/>
<line class="gr" x1="639.21" y1="281.6" x2="639.21" y2="481.3"/>
<line class="gr" x1="392.2" y1="456.34" x2="674.5" y2="456.34"/>
<line class="gr" x1="392.2" y1="431.38" x2="674.5" y2="431.38"/>
<line class="gr" x1="392.2" y1="406.41" x2="674.5" y2="406.41"/>
<line class="gr" x1="392.2" y1="381.45" x2="674.5" y2="381.45"/>
<line class="gr" x1="392.2" y1="356.49" x2="674.5" y2="356.49"/>
<line class="gr" x1="392.2" y1="331.53" x2="674.5" y2="331.53"/>
<line class="gr" x1="392.2" y1="306.56" x2="674.5" y2="306.56"/>
<line class="tm" x1="427.49" y1="481.3" x2="427.49" y2="478.5"/>
<line class="tm" x1="427.49" y1="281.6" x2="427.49" y2="284.4"/>
<line class="tm" x1="462.77" y1="481.3" x2="462.77" y2="478.5"/>
<line class="tm" x1="462.77" y1="281.6" x2="462.77" y2="284.4"/>
<line class="tm" x1="498.06" y1="481.3" x2="498.06" y2="478.5"/>
<line class="tm" x1="498.06" y1="281.6" x2="498.06" y2="284.4"/>
<line class="tm" x1="533.35" y1="481.3" x2="533.35" y2="478.5"/>
<line class="tm" x1="533.35" y1="281.6" x2="533.35" y2="284.4"/>
<line class="tm" x1="568.64" y1="481.3" x2="568.64" y2="478.5"/>
<line class="tm" x1="568.64" y1="281.6" x2="568.64" y2="284.4"/>
<line class="tm" x1="603.92" y1="481.3" x2="603.92" y2="478.5"/>
<line class="tm" x1="603.92" y1="281.6" x2="603.92" y2="284.4"/>
<line class="tm" x1="639.21" y1="481.3" x2="639.21" y2="478.5"/>
<line class="tm" x1="639.21" y1="281.6" x2="639.21" y2="284.4"/>
<line class="tm" x1="392.2" y1="456.34" x2="395" y2="456.34"/>
<line class="tm" x1="674.5" y1="456.34" x2="671.7" y2="456.34"/>
<line class="tm" x1="392.2" y1="431.38" x2="395" y2="431.38"/>
<line class="tm" x1="674.5" y1="431.38" x2="671.7" y2="431.38"/>
<line class="tm" x1="392.2" y1="406.41" x2="395" y2="406.41"/>
<line class="tm" x1="674.5" y1="406.41" x2="671.7" y2="406.41"/>
<line class="tm" x1="392.2" y1="381.45" x2="395" y2="381.45"/>
<line class="tm" x1="674.5" y1="381.45" x2="671.7" y2="381.45"/>
<line class="tm" x1="392.2" y1="356.49" x2="395" y2="356.49"/>
<line class="tm" x1="674.5" y1="356.49" x2="671.7" y2="356.49"/>
<line class="tm" x1="392.2" y1="331.53" x2="395" y2="331.53"/>
<line class="tm" x1="674.5" y1="331.53" x2="671.7" y2="331.53"/>
<line class="tm" x1="392.2" y1="306.56" x2="395" y2="306.56"/>
<line class="tm" x1="674.5" y1="306.56" x2="671.7" y2="306.56"/>
<clipPath id="cl-d"><rect x="392.2" y="281.6" width="282.3" height="199.7"/></clipPath>
<g clip-path="url(#cl-d)">
<polyline class="cv" stroke="#2525a0" stroke-width="1.2" points="392.19,407.92 397.3,410.11 404.6,412.59 411.9,414.05 417.74,415.51 422.12,417.41 427.96,418.87 435.26,419.16 440.36,419.89 444.74,418.43 448.39,418.87 449.85,417.7 451.31,418.43 458.61,417.26 465.91,416.68 473.21,417.26 480.51,416.24 484.89,416.68 490,417.41 491.57,415.8 493.03,417.26 498.14,418.14 502.52,419.45 506.9,417.41 509.82,416.68 514.2,418.43 518.58,417.7 524.42,418.43 528.8,418.43 533.18,416.97 536.09,417.99 539.01,416.68 543.39,417.26 547.77,416.24 549.96,417.26 553.61,414.78 557.26,414.34 560.18,416.68 566.75,417.26 574.05,417.26 579.89,416.53 585,414.05 590.22,411.24 596.06,409.34 601.9,409.78 607.01,412.99 612.12,415.62 617.96,416.35 623.8,418.1 629.64,416.06 635.47,413.43 641.31,409.78 645.69,406.42 649.34,404.23"/>
<polyline class="cv" stroke="#b02424" stroke-width="1.2" points="392.19,402.08 398.76,401.64 404.6,401.35 411.9,403.1 416.28,402.08 421.39,401.64 426.5,403.1 430.88,403.83 435.26,400.91 439.64,397.99 445.47,396.09 449.85,395.51 454.23,397.26 460.07,396.82 464.45,398.43 468.83,401.64 474.67,406.75 479.78,409.67 484.89,409.96 490,410.84 490.84,410.69 496.68,410.69 502.52,408.94 508.36,405.73 512.74,402.37 518.58,400.18 524.42,399.89 530.26,400.91 536.09,403.1 543.39,403.83 549.23,405.73 555.07,409.38 560.91,410.84 566.75,410.4 574.05,408.21 579.89,406.02 585,405 587.3,405.69 594.6,406.13 601.9,406.13 609.2,404.96 615.04,403.94 619.42,401.75 623.8,400.29 628.91,399.56 634.01,400.58 638.39,403.21 642.77,405.84 647.15,407.15 648.91,407.59"/>
<polyline class="cv" stroke="#2cc42c" stroke-width="1.2" points="392.19,370.55 395.84,367.63 400.22,367.63 403.87,366.61 408.98,367.77 414.82,369.23 417.74,367.34 422.12,368.36 427.23,368.5 432.34,367.04 436.72,364.85 440.36,363.69 441.82,365.15 443.28,369.23 446.2,370.26 449.85,369.53 454.23,371.72 457.88,371.72 460.8,372.88 462.55,370.99 465.91,374.64 469.56,378.58 473.94,380.91 479.05,380.47 483.43,381.2 490,380.77 490.84,380.91 495.95,378.72 500.33,378.72 503.98,380.91 508.36,382.37 512.74,381.5 515.66,380.47 518.58,382.37 521.5,385.58 523.25,387.04 525.15,384.85 528.8,388.5 533.18,391.86 536.82,392.45 538.28,390.26 541.93,390.99 546.31,391.86 550.69,390.26 553.61,389.67 556.53,391.42 558.72,386.31 560.18,381.93 563.83,381.2 566.02,383.39 567.48,387.04 569.67,386.02 573.32,390.26 576.24,386.31 579.16,379.74 582.08,375.36 585,373.61 585.55,373.28 588.76,375.77 592.41,378.39 593.87,382.04 597.52,381.31 601.9,384.67 607.01,383.07 611.39,386.42 615.77,387.15 616.93,390.07 619.42,387.15 623.8,386.13 627.45,386.72 630.36,379.85 634.01,380.58 637.66,381.75 641.31,380.15 644.96,380.58 646.42,383.5 647.88,392.99 649.64,398.83"/>
<polyline class="cv" stroke="#e9e94a" stroke-width="1.2" points="392.19,345.15 396.57,343.69 400.22,344.71 406.06,349.09 411.9,353.18 417.74,353.76 422.12,353.18 427.96,355.22 435.26,356.68 443.28,357.85 451.31,355.95 458.61,355.66 464.45,354.64 470.29,352.45 475.4,346.9 479.78,344.71 483.43,341.79 486.35,343.69 490,343.98 490.84,344.27 496.68,348.36 503.98,352.3 511.28,357.41 518.58,361.5 526.61,364.71 531.72,368.07 536.09,368.8 539.74,367.77 544.85,363.69 550.69,359.6 557.99,355.95 563.83,354.2 568.21,355.66 575.51,355.22 585,353.76 587.3,353.28 594.6,350.36 601.9,348.03 607.74,347.45 613.58,348.47 620.88,349.93 628.18,351.82 635.47,353.87 641.31,355.04 645.69,354.6 649.05,355.77"/>
<polyline class="cv" stroke="#28cdcd" stroke-width="1.2" points="392.19,389.23 397.3,390.26 404.6,390.69 408.25,389.23 410.44,391.42 416.28,392.15 426.5,390.99 436.72,389.23 448.39,388.07 462.99,387.48 477.59,387.48 483.43,386.75 485.62,387.48 490,387.48 490.84,387.04 493.76,386.31 499.6,387.04 506.9,386.02 514.2,384.56 520.04,382.37 528.8,381.64 536.09,380.77 543.39,379.31 550.69,377.85 557.99,376.53 565.29,376.09 572.59,375.8 578.43,375.36 581.35,373.18 585,371.42 588.03,372.55 590.95,374.31 594.6,372.85 596.79,369.64 598.25,365.55 601.9,361.61 606.28,356.5 607.01,349.2 609.2,343.36 613.58,337.52 617.96,332.41 622.34,328.03 626.72,325.84 630.36,326.86 634.01,331.68 638.39,339.71 644.23,347.01 648.61,352.85"/>
<polyline class="cv" stroke="#c028c0" stroke-width="1.2" points="392.19,389.23 395.84,390.4 398.76,392.45 404.6,393.91 408.98,394.78 411.9,392.45 416.28,392.45 419.2,390.99 422.85,389.53 425.04,390.69 427.96,388.5 430.88,389.96 433.07,388.07 435.26,389.23 439.64,387.04 444.01,386.31 448.39,385.15 452.77,386.31 457.15,386.02 461.53,386.31 465.18,387.48 466.2,384.85 468.83,384.56 473.21,383.69 479.05,383.39 483.43,384.12 490,383.39 492.3,383.1 499.6,382.66 506.9,383.39 514.2,383.39 519.31,383.39 522.23,385.58 524.42,382.96 528.8,382.96 530.99,383.83 533.18,381.93 539.01,381.2 547.77,381.93 553.61,380.91 559.45,380.18 566.75,381.2 572.59,381.64 578.43,381.2 585,379.74 587.3,379.12 594.6,380.15 601.9,380.15 610.66,379.56 617.96,380.58 626.72,381.02 631.09,382.04 635.47,382.77 638.39,384.96 642.77,385.26 644.96,385.69 648.91,387.45"/>
</g>
<rect class="ax" x="392.2" y="281.6" width="282.3" height="199.7" stroke="#5c5c5c" stroke-width="1.3"/>
<text font-size="5.7" text-anchor="middle" x="392.2" y="490.1">0</text>
<text font-size="5.7" text-anchor="middle" x="427.49" y="490.1">50</text>
<text font-size="5.7" text-anchor="middle" x="462.77" y="490.1">100</text>
<text font-size="5.7" text-anchor="middle" x="498.06" y="490.1">150</text>
<text font-size="5.7" text-anchor="middle" x="533.35" y="490.1">200</text>
<text font-size="5.7" text-anchor="middle" x="568.64" y="490.1">250</text>
<text font-size="5.7" text-anchor="middle" x="603.92" y="490.1">300</text>
<text font-size="5.7" text-anchor="middle" x="639.21" y="490.1">350</text>
<text font-size="5.7" text-anchor="middle" x="674.5" y="490.1">400</text>
<text font-size="5.7" text-anchor="end" x="389.3" y="483.35">700</text>
<text font-size="5.7" text-anchor="end" x="389.3" y="458.39">720</text>
<text font-size="5.7" text-anchor="end" x="389.3" y="433.43">740</text>
<text font-size="5.7" text-anchor="end" x="389.3" y="408.46">760</text>
<text font-size="5.7" text-anchor="end" x="389.3" y="383.5">780</text>
<text font-size="5.7" text-anchor="end" x="389.3" y="358.54">800</text>
<text font-size="5.7" text-anchor="end" x="389.3" y="333.58">820</text>
<text font-size="5.7" text-anchor="end" x="389.3" y="308.61">840</text>
<text font-size="5.7" text-anchor="end" x="389.3" y="283.65">860</text>
<text class="tt" font-size="6.68" text-anchor="middle" x="534.05" y="278.7">One Leg Balanced Open Eyes</text>
<text font-size="6.9" text-anchor="middle" x="533.7" y="498.6">orientation(deg)</text>
<text font-size="6.9" text-anchor="middle" transform="translate(377.4,381.2) rotate(-90)">Ave firing rate (Hz)</text>
<rect x="613.2" y="428.2" width="53.7" height="45.45" fill="#fff" stroke="#4a4a4a" stroke-width="1"/>
<line x1="614.6" y1="432.6" x2="630.95" y2="432.6" stroke="#3a3aae" stroke-width="1.3"/>
<text font-size="5.1" font-weight="bold" fill="#111" x="632.6" y="434.89">Ground Truth</text>
<line x1="614.6" y1="439.95" x2="630.95" y2="439.95" stroke="#b83434" stroke-width="1.3"/>
<text font-size="5.1" font-weight="bold" fill="#111" x="632.6" y="442.24">Subject 1</text>
<line x1="614.6" y1="447.3" x2="630.95" y2="447.3" stroke="#34cc34" stroke-width="1.3"/>
<text font-size="5.1" font-weight="bold" fill="#111" x="632.6" y="449.59">Subject 2</text>
<line x1="614.6" y1="454.65" x2="630.95" y2="454.65" stroke="#efef5c" stroke-width="1.3"/>
<text font-size="5.1" font-weight="bold" fill="#111" x="632.6" y="456.94">Subject 3</text>
<line x1="614.6" y1="462" x2="630.95" y2="462" stroke="#34d4d4" stroke-width="1.3"/>
<text font-size="5.1" font-weight="bold" fill="#111" x="632.6" y="464.29">Subject 4</text>
<line x1="614.6" y1="469.35" x2="630.95" y2="469.35" stroke="#c834c8" stroke-width="1.3"/>
<text font-size="5.1" font-weight="bold" fill="#111" x="632.6" y="471.64">Subject 5</text>
<text class="cap" text-anchor="middle" x="540.1" y="519.1">(d)</text>
</g>
<g id="chart-e">
<line class="gr" x1="243.76" y1="555.3" x2="243.76" y2="756.2"/>
<line class="gr" x1="279.16" y1="555.3" x2="279.16" y2="756.2"/>
<line class="gr" x1="314.57" y1="555.3" x2="314.57" y2="756.2"/>
<line class="gr" x1="349.98" y1="555.3" x2="349.98" y2="756.2"/>
<line class="gr" x1="385.38" y1="555.3" x2="385.38" y2="756.2"/>
<line class="gr" x1="420.79" y1="555.3" x2="420.79" y2="756.2"/>
<line class="gr" x1="456.19" y1="555.3" x2="456.19" y2="756.2"/>
<line class="gr" x1="208.35" y1="689.23" x2="491.6" y2="689.23"/>
<line class="gr" x1="208.35" y1="622.27" x2="491.6" y2="622.27"/>
<line class="tm" x1="243.76" y1="756.2" x2="243.76" y2="753.4"/>
<line class="tm" x1="243.76" y1="555.3" x2="243.76" y2="558.1"/>
<line class="tm" x1="279.16" y1="756.2" x2="279.16" y2="753.4"/>
<line class="tm" x1="279.16" y1="555.3" x2="279.16" y2="558.1"/>
<line class="tm" x1="314.57" y1="756.2" x2="314.57" y2="753.4"/>
<line class="tm" x1="314.57" y1="555.3" x2="314.57" y2="558.1"/>
<line class="tm" x1="349.98" y1="756.2" x2="349.98" y2="753.4"/>
<line class="tm" x1="349.98" y1="555.3" x2="349.98" y2="558.1"/>
<line class="tm" x1="385.38" y1="756.2" x2="385.38" y2="753.4"/>
<line class="tm" x1="385.38" y1="555.3" x2="385.38" y2="558.1"/>
<line class="tm" x1="420.79" y1="756.2" x2="420.79" y2="753.4"/>
<line class="tm" x1="420.79" y1="555.3" x2="420.79" y2="558.1"/>
<line class="tm" x1="456.19" y1="756.2" x2="456.19" y2="753.4"/>
<line class="tm" x1="456.19" y1="555.3" x2="456.19" y2="558.1"/>
<line class="tm" x1="208.35" y1="689.23" x2="211.15" y2="689.23"/>
<line class="tm" x1="491.6" y1="689.23" x2="488.8" y2="689.23"/>
<line class="tm" x1="208.35" y1="622.27" x2="211.15" y2="622.27"/>
<line class="tm" x1="491.6" y1="622.27" x2="488.8" y2="622.27"/>
<clipPath id="cl-e"><rect x="208.35" y="555.3" width="283.25" height="200.9"/></clipPath>
<g clip-path="url(#cl-e)">
<polyline class="cv" stroke="#2525a0" stroke-width="0.85" points="208.28,571 212.88,574.02 218.14,577.31 224.71,582.56 231.28,587.82 239.16,593.47 247.04,598.33 254.93,603.58 262.81,608.84 270.69,614.09 278.58,621.32 284.49,625.66 285,625.95 293.76,632.81 301.06,638.36 308.36,642.01 312.01,644.93 314.2,648.87 320.04,652.96 328.8,659.53 337.55,665.36 346.31,671.93 355.07,678.07 363.83,684.34 372.59,690.91 374.78,692.37 375,692.04 381.93,696.9 388.87,701.75 397.19,707.3 405.51,712.85 413.83,716.59 420.77,719.09 424.23,720.47 425,720.18 428.28,720.51 429.93,723.14 431.57,726.42 434.2,729.05 438.14,731.68 442.08,734.96 446.02,738.25 449.31,740.88 451.93,743.5 453.91,745.47 455.88,745.15 457.52,743.83 459.16,740.22 460.8,736.61"/>
<polyline class="cv" stroke="#b02424" stroke-width="0.85" points="208.28,571.39 209.6,574.68 211.57,577.31 215.51,577.96 220.11,577.96 222.08,575.99 224.71,575.34 227.34,576.65 229.31,579.93 231.28,581.91 235.22,583.48 241.79,587.16 249.67,592.15 257.55,597.41 264.12,601.88 270.69,605.55 278.58,609.5 284.49,612.39 290.84,615.73 299.6,620.11 308.36,624.93 312.01,629.16 315.66,629.31 321.5,633.25 328.8,637.63 335.36,641.28 340.47,642.74 347.77,645.66 356.53,649.31 365.29,654.12 375.51,660.26 380.62,662.88 384.71,665 394.42,669.85 405.51,674.43 415.22,678.45 423.54,682.34 430.47,686.5 437.41,690.66 442.96,694.4 448.5,697.18 454.05,700.36 459.6,703.55"/>
<polyline class="cv" stroke="#2cc42c" stroke-width="0.85" points="208.28,557.99 210.91,559.57 214.85,563.51 220.77,567.72 228.65,573.76 236.53,579.93 244.42,585.19 252.3,592.42 260.18,599.64 268.07,607.53 275.95,614.75 283.83,620.66 285,620.84 293.76,628.87 302.52,636.9 311.28,643.47 320.04,650.77 328.8,658.8 337.55,666.82 343.39,671.2 350.69,676.31 360.91,682.88 369.67,689.45 374.05,693.1 375,694.12 383.32,700.36 391.64,706.61 399.96,711.46 408.28,715.62 413.83,720.47 420.77,723.94 424.93,725.33 428.28,725.77 431.57,727.08 434.85,727.41 438.14,728.07 442.08,729.38 446.68,729.71 450.62,730.69 453.25,732.34 454.23,734.96 455.22,736.93 457.19,737.92 459.16,737.92 461,737.59"/>
<polyline class="cv" stroke="#e9e94a" stroke-width="0.85" points="208.28,585.19 212.88,589.13 220.77,595.04 228.65,600.96 239.16,608.18 249.67,614.09 257.55,618.69 265.44,624.61 273.32,629.86 281.2,635.77 284.49,638.14 285,637.92 292.3,642.74 296.68,648.87 302.52,652.23 311.28,658.8 320.04,664.64 328.8,670.47 337.55,675.58 346.31,679.96 355.07,684.34 363.83,689.16 372.59,694.56 374.78,696.02 375,694.82 383.32,701.06 391.64,706.61 399.96,711.46 408.28,714.93 416.61,719.78 423.54,723.94 424.93,724.64 428.94,727.08 433.54,727.74 439.45,728.39 446.02,728.39 452.59,728.39 459.82,728.72"/>
<polyline class="cv" stroke="#28cdcd" stroke-width="0.85" points="208.28,576.65 212.88,580.59 218.14,585.19 223.39,589.13 228.65,593.47 232.59,594.78 236.53,597.67 239.82,601.61 244.42,604.5 249.67,608.18 256.24,613.44 264.12,618.69 272.01,623.95 277.26,626.58 280.55,628.55 282.52,631.83 283.83,637.09 285,640.11 293.76,645.66 302.52,651.5 309.82,656.61 312.74,657.77 314.2,666.09 315.66,677.77 316.82,683.91 322.96,686.53 331.72,691.64 340.47,696.02 349.23,699.67 356.53,702.88 360.91,705.51 364.56,710.62 369.67,713.54 372.59,715 375,717.01 380.55,720.47 386.09,724.36 393.03,727.41 401.35,730.46 409.67,732.26 419.38,733.23 424.93,735.31 428.28,736.61 431.57,737.92 435.51,738.58 439.45,739.89 442.74,741.53 444.71,743.83 446.02,745.15 447.66,744.16 449.96,740.88 451.28,734.96 452.59,730.69 454.56,729.71 456.2,729.05 457.85,730.04 459.82,731.68"/>
<polyline class="cv" stroke="#c028c0" stroke-width="0.85" points="208.28,571.39 212.88,573.76 218.14,576.65 224.71,580.59 231.28,585.58 239.16,591.76 247.04,597.01 254.93,601.61 262.81,606.21 270.69,612.12 278.58,618.04 284.49,622.9 285,623.03 293.76,630.33 302.52,636.9 311.28,642.74 320.04,649.31 328.8,655.58 337.55,660.55 346.31,665.36 355.07,671.2 363.83,677.77 372.59,684.78 374.78,686.53 375,687.19 380.55,690.66 386.79,695.51 388.87,701.06 394.42,705.91 401.35,711.46 406.9,714.93 412.45,720.47 419.38,723.94 424.23,726.44 425,726.09 428.94,728.07 432.23,730.36 435.51,732.99 438.8,736.28 442.08,738.25 444.71,738.91 447.34,738.58 448.65,736.28 449.96,732.66 451.28,731.35 453.25,731.02 455.55,729.38 457.19,731.02 459.16,732.66 460.8,733.32"/>
</g>
<rect class="ax" x="208.35" y="555.3" width="283.25" height="200.9" stroke="#6a6a6a" stroke-width="0.9"/>
<text font-size="5.8" text-anchor="middle" x="208.35" y="764.6">0</text>
<text font-size="5.8" text-anchor="middle" x="243.76" y="764.6">50</text>
<text font-size="5.8" text-anchor="middle" x="279.16" y="764.6">100</text>
<text font-size="5.8" text-anchor="middle" x="314.57" y="764.6">150</text>
<text font-size="5.8" text-anchor="middle" x="349.98" y="764.6">200</text>
<text font-size="5.8" text-anchor="middle" x="385.38" y="764.6">250</text>
<text font-size="5.8" text-anchor="middle" x="420.79" y="764.6">300</text>
<text font-size="5.8" text-anchor="middle" x="456.19" y="764.6">350</text>
<text font-size="5.8" text-anchor="middle" x="491.6" y="764.6">400</text>
<text font-size="5.8" text-anchor="end" x="205.05" y="758.29">0</text>
<text font-size="5.8" text-anchor="end" x="205.05" y="691.32">500</text>
<text font-size="5.8" text-anchor="end" x="205.05" y="624.35">1000</text>
<text font-size="5.8" text-anchor="end" x="205.05" y="557.39">1500</text>
<text class="tt" font-size="6.96" text-anchor="middle" x="350.2" y="551.9">Walking towards Kinect</text>
<text font-size="7.0" text-anchor="middle" x="348.9" y="778.8">orientation(deg)</text>
<text font-size="7.0" text-anchor="middle" transform="translate(188.65,656) rotate(-90)">Ave firing rate (Hz)</text>
<rect x="428.2" y="562.6" width="56.6" height="47.1" fill="#fff" stroke="#5c5c5c" stroke-width="0.85"/>
<line x1="429.85" y1="567.2" x2="446.8" y2="567.2" stroke="#3a3aae" stroke-width="1.3"/>
<text font-size="5.8" font-weight="normal" fill="#111" x="448.8" y="569.74">Ground Truth</text>
<line x1="429.85" y1="574.82" x2="446.8" y2="574.82" stroke="#b83434" stroke-width="1.3"/>
<text font-size="5.8" font-weight="normal" fill="#111" x="448.8" y="577.36">Subject 1</text>
<line x1="429.85" y1="582.44" x2="446.8" y2="582.44" stroke="#34cc34" stroke-width="1.3"/>
<text font-size="5.8" font-weight="normal" fill="#111" x="448.8" y="584.98">Subject 2</text>
<line x1="429.85" y1="590.06" x2="446.8" y2="590.06" stroke="#efef5c" stroke-width="1.3"/>
<text font-size="5.8" font-weight="normal" fill="#111" x="448.8" y="592.6">Subject 3</text>
<line x1="429.85" y1="597.68" x2="446.8" y2="597.68" stroke="#34d4d4" stroke-width="1.3"/>
<text font-size="5.8" font-weight="normal" fill="#111" x="448.8" y="600.22">Subject 4</text>
<line x1="429.85" y1="605.3" x2="446.8" y2="605.3" stroke="#c834c8" stroke-width="1.3"/>
<text font-size="5.8" font-weight="normal" fill="#111" x="448.8" y="607.84">Subject 5</text>
<text class="cap" text-anchor="middle" x="351" y="798.9">(e)</text>
</g>
</svg></body></html>
